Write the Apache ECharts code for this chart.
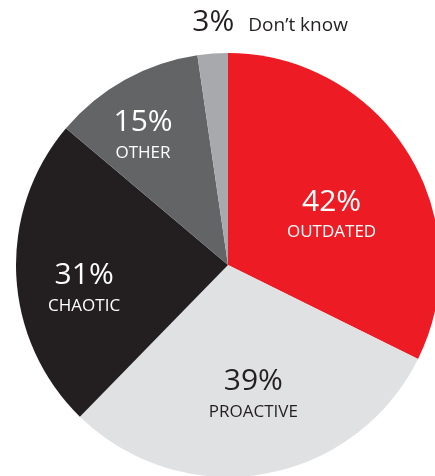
<!DOCTYPE html>
<html>
<head>
<meta charset="utf-8">
<script src="https://cdn.jsdelivr.net/npm/echarts@6/dist/echarts.min.js"></script>
<style>
  html, body { margin: 0; padding: 0; background: #fff; }
  #chart { width: 435px; height: 476px; }
</style>
</head>
<body>
<div id="chart"></div>
<script>
const names = ["OUTDATED", "PROACTIVE", "CHAOTIC", "OTHER", "Don\u2019t know"];
const values = [42, 39, 31, 15, 3];
const colors = ["#ED1C24", "#E0E1E3", "#231F20", "#636466", "#A7A9AC"];
const textColors = ["#fff", "#231F20", "#fff", "#fff", "#231F20"];

// nudge labels away from the default inside spot
const labelShift = [[11, 8], [7, 23], [-35, 19], [-32, -34], [50, -134]];

const chart = echarts.init(document.getElementById("chart"));
const data = names.map((n, i) => ({
    name: n,
    value: values[i],
    itemStyle: { color: colors[i] },
    label: {
        color: textColors[i],
        formatter: i === 4 ? "{p|{c}%}{s|{b}}" : "{p|{c}%}\n{n|{b}}",
        rich: {
            p: { fontSize: 30, lineHeight: 34, color: textColors[i], fontFamily: "Open Sans" },
            n: { fontSize: 17, lineHeight: 27, color: textColors[i], fontFamily: "Open Sans" },
            s: { fontSize: 19, lineHeight: 34, color: textColors[i], fontFamily: "Open Sans", padding: [6, 0, 0, 14] }
        }
    }
}));

chart.setOption({
    animation: false,
    series: [{
        type: "pie",
        center: [228, 265],
        radius: 212,
        startAngle: 90,
        clockwise: true,
        silent: true,
        label: { show: true, position: "inside", align: "center", fontFamily: "Open Sans" },
        labelLine: { show: false },
        labelLayout: p => ({ dx: labelShift[p.dataIndex][0], dy: labelShift[p.dataIndex][1] }),
        data: data
    }]
});
window.addEventListener("resize", () => chart.resize());
</script>
</body>
</html>
